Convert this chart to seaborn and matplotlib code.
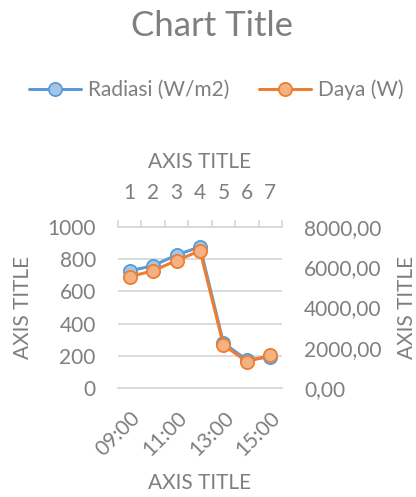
import matplotlib
matplotlib.use('Agg')
import matplotlib.pyplot as plt
from matplotlib.lines import Line2D
from matplotlib.ticker import FuncFormatter
import numpy as np
import pandas as pd
import seaborn as sns

# data
hours = ['09:00', '10:00', '11:00', '12:00', '13:00', '14:00', '15:00']
top_labels = ['1', '2', '3', '4', '5', '6', '7']
radiasi = [727, 760, 826, 877, 280, 174, 194]
daya = [5530, 5830, 6330, 6820, 2140, 1310, 1620]

sns.set_style('white')
plt.rcParams['font.family'] = ['Lato', 'DejaVu Sans']

GRAY = '#7F7F7F'
LINE = '#D9D9D9'
BLUE = '#5B9BD5'
BLUE_FACE = '#A4C6E8'
ORANGE = '#ED7D31'
ORANGE_FACE = '#F4B183'
FS = 15

df = pd.DataFrame({'pos': np.arange(len(hours)), 'jam': hours,
                   'radiasi': radiasi, 'daya': daya})

fig = plt.figure(figsize=(4.16, 4.97), dpi=100)
ax = fig.add_axes([118 / 416, 1 - 388 / 497, 164 / 416, 161 / 497])
ax2 = ax.twinx()

sns.lineplot(data=df, x='pos', y='radiasi', ax=ax, color=BLUE, linewidth=2.2,
             marker='o', markersize=9.5, markerfacecolor=BLUE_FACE,
             markeredgecolor=BLUE, markeredgewidth=1.3, label='Radiasi (W/m2)')
sns.lineplot(data=df, x='pos', y='daya', ax=ax2, color=ORANGE, linewidth=2.2,
             marker='o', markersize=9.5, markerfacecolor=ORANGE_FACE,
             markeredgecolor=ORANGE, markeredgewidth=1.3, label='Daya (W)')
for a in (ax, ax2):
    if a.get_legend() is not None:
        a.get_legend().remove()

n = len(hours)
bounds = np.arange(n + 1) - 0.5
ax.set_xlim(-0.5, n - 0.5)
ax.set_ylim(0, 1000)
ax2.set_ylim(0, 8000)
ax.set_yticks(np.arange(0, 1001, 200))
ax2.set_yticks(np.arange(0, 8001, 2000))
ax2.yaxis.set_major_formatter(FuncFormatter(lambda v, p: f'{v:.2f}'.replace('.', ',')))

ax.yaxis.grid(True, color=LINE, linewidth=1.3)
ax.set_axisbelow(True)

for s in ('left', 'right', 'top'):
    ax.spines[s].set_visible(False)
ax.spines['bottom'].set_color(LINE)
ax.spines['bottom'].set_linewidth(1.3)
for s in ax2.spines.values():
    s.set_visible(False)

# bottom axis
ax.set_xticks(df['pos'][::2], labels=df['jam'][::2])
ax.set_xticks(bounds, minor=True)
ax.tick_params(axis='x', which='major', length=0, pad=14, labelsize=FS,
               labelcolor=GRAY, labelrotation=45)
ax.tick_params(axis='x', which='minor', length=5, width=1.3, color=LINE)
for lab in ax.get_xticklabels():
    lab.set_ha('right')
    lab.set_rotation_mode('anchor')
ax.tick_params(axis='y', length=0, pad=16, labelsize=FS, labelcolor=GRAY)
ax2.tick_params(axis='y', length=0, pad=16, labelsize=FS, labelcolor=GRAY)

# top (secondary) axis
sec = ax.secondary_xaxis('top')
sec.set_xticks(df['pos'], labels=top_labels)
sec.set_xticks(bounds, minor=True)
sec.tick_params(which='major', length=0, pad=17, labelsize=FS, labelcolor=GRAY)
sec.tick_params(which='minor', length=5, width=1.3, color=LINE)
sec.spines['top'].set_color(LINE)
sec.spines['top'].set_linewidth(1.3)

# axis titles
ax.set_xlabel('AXIS TITLE', fontsize=FS, color=GRAY)
ax.xaxis.set_label_coords(0.5, -0.53)
sec.set_xlabel('AXIS TITLE', fontsize=FS, color=GRAY, labelpad=11)
ax.set_ylabel('AXIS TITLE', fontsize=FS, color=GRAY)
ax.yaxis.set_label_coords(-0.52, 0.5)
ax2.set_ylabel('AXIS TITLE', fontsize=FS, color=GRAY, rotation=90)
ax2.yaxis.set_label_coords(1.70, 0.5)

fig.suptitle('Chart Title', fontsize=25, color=GRAY, x=0.51, y=1 - 26 / 497,
             va='center')

handles = [
    Line2D([], [], color=BLUE, linewidth=2.2, marker='o', markersize=9.5,
           markerfacecolor=BLUE_FACE, markeredgecolor=BLUE, markeredgewidth=1.3),
    Line2D([], [], color=ORANGE, linewidth=2.2, marker='o', markersize=9.5,
           markerfacecolor=ORANGE_FACE, markeredgecolor=ORANGE, markeredgewidth=1.3),
]
leg = fig.legend(handles, ['Radiasi (W/m2)', 'Daya (W)'], loc='center',
                 bbox_to_anchor=(0.52, 1 - 90 / 497), ncol=2, frameon=False,
                 fontsize=FS, handlelength=2.5, handletextpad=0.35,
                 columnspacing=1.4)
for t in leg.get_texts():
    t.set_color(GRAY)

fig.savefig('out.png', dpi=100)
